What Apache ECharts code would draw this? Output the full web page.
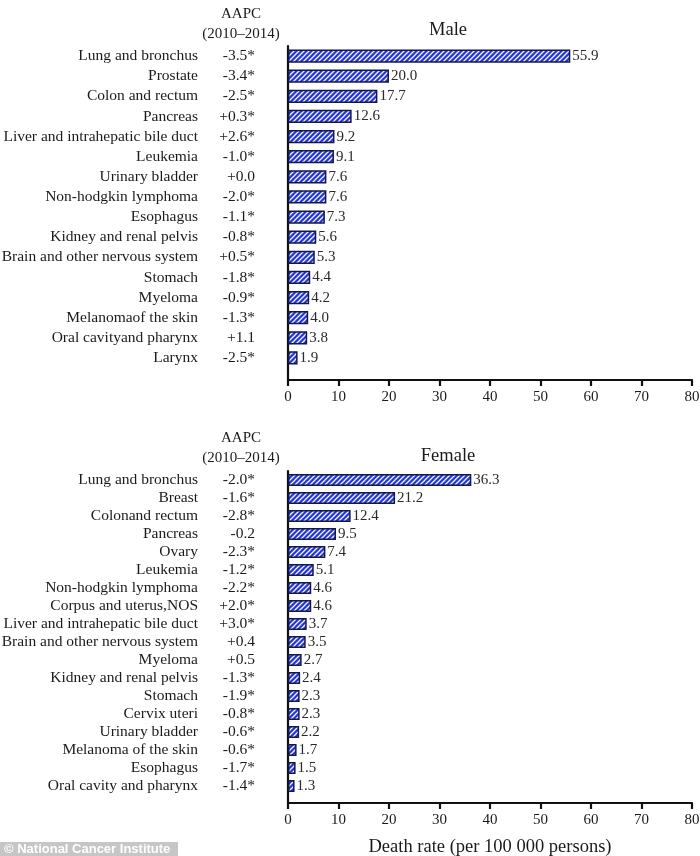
<!DOCTYPE html>
<html>
<head>
<meta charset="utf-8">
<script src="https://cdn.jsdelivr.net/npm/echarts@6/dist/echarts.min.js"></script>
<style>
  html, body { margin: 0; padding: 0; background: #fff; }
  #chart { width: 700px; height: 856px; }
</style>
</head>
<body>
<div id="chart"></div>
<script>
// 男性数据
var maleCats = ['Lung and bronchus', 'Prostate', 'Colon and rectum', 'Pancreas', 'Liver and intrahepatic bile duct',
  'Leukemia', 'Urinary bladder', 'Non-hodgkin lymphoma', 'Esophagus', 'Kidney and renal pelvis',
  'Brain and other nervous system', 'Stomach', 'Myeloma', 'Melanomaof the skin', 'Oral cavityand pharynx', 'Larynx'];
var maleAapc = ['-3.5*', '-3.4*', '-2.5*', '+0.3*', '+2.6*', '-1.0*', '+0.0', '-2.0*', '-1.1*', '-0.8*',
  '+0.5*', '-1.8*', '-0.9*', '-1.3*', '+1.1', '-2.5*'];
var maleRates = [55.9, 20.0, 17.7, 12.6, 9.2, 9.1, 7.6, 7.6, 7.3, 5.6, 5.3, 4.4, 4.2, 4.0, 3.8, 1.9];

// 女性数据
var femaleCats = ['Lung and bronchus', 'Breast', 'Colonand rectum', 'Pancreas', 'Ovary', 'Leukemia',
  'Non-hodgkin lymphoma', 'Corpus and uterus,NOS', 'Liver and intrahepatic bile duct',
  'Brain and other nervous system', 'Myeloma', 'Kidney and renal pelvis', 'Stomach', 'Cervix uteri',
  'Urinary bladder', 'Melanoma of the skin', 'Esophagus', 'Oral cavity and pharynx'];
var femaleAapc = ['-2.0*', '-1.6*', '-2.8*', '-0.2', '-2.3*', '-1.2*', '-2.2*', '+2.0*', '+3.0*', '+0.4',
  '+0.5', '-1.3*', '-1.9*', '-0.8*', '-0.6*', '-0.6*', '-1.7*', '-1.4*'];
var femaleRates = [36.3, 21.2, 12.4, 9.5, 7.4, 5.1, 4.6, 4.6, 3.7, 3.5, 2.7, 2.4, 2.3, 2.3, 2.2, 1.7, 1.5, 1.3];

// x轴刻度
var xTicks = [0, 10, 20, 30, 40, 50, 60, 70, 80];

var SERIF = "'Liberation Serif', 'Times New Roman', serif";
var INK = '#1a1a1a';

//斜线填充
function makeHatch() {
  var c = document.createElement('canvas');
  c.width = 5; c.height = 5;
  var ctx = c.getContext('2d');
  ctx.fillStyle = '#2536d6';
  ctx.fillRect(0, 0, 5, 5);
  ctx.strokeStyle = '#f4f6ff';
  ctx.lineWidth = 1.25;
  ctx.beginPath();
  ctx.moveTo(-1, 6); ctx.lineTo(6, -1);
  ctx.moveTo(-1, 1); ctx.lineTo(1, -1);
  ctx.moveTo(4, 6); ctx.lineTo(6, 4);
  ctx.stroke();
  return c;
}
var hatch = makeHatch();

function catAxis(gridIndex, cats, aapc) {
  return {
    type: 'category', gridIndex: gridIndex, inverse: true, data: cats,
    axisLine: { show: false }, axisTick: { show: false },
    axisLabel: {
      margin: 33,
      formatter: function (v, i) { return '{n|' + v + '}{a|' + aapc[i] + '}'; },
      rich: {
        n: { width: 200, align: 'right', fontFamily: SERIF, fontSize: 15.5, color: INK },
        a: { width: 57, align: 'right', fontFamily: SERIF, fontSize: 15.5, color: INK }
      }
    }
  };
}

function frameX(gridIndex, withName) {
  var ax = {
    type: 'value', gridIndex: gridIndex, min: xTicks[0], max: xTicks[xTicks.length - 1], interval: 10,
    position: 'bottom',
    axisLine: { onZero: false, lineStyle: { color: '#111', width: 2.2 } },
    axisTick: { length: 6, lineStyle: { color: '#111', width: 2.2 } },
    axisLabel: { margin: 10, fontFamily: SERIF, fontSize: 15, color: INK },
    splitLine: { show: false }
  };
  if (withName) {
    ax.name = 'Death rate (per 100 000 persons)';
    ax.nameLocation = 'middle';
    ax.nameGap = 35;
    ax.nameTextStyle = { fontFamily: SERIF, fontSize: 18.5, color: INK };
  }
  return ax;
}

function frameY(gridIndex) {
  return {
    type: 'value', gridIndex: gridIndex, min: 0, max: 1,
    axisLine: { show: true, onZero: false, lineStyle: { color: '#111', width: 2.2 } },
    axisTick: { show: false }, axisLabel: { show: false }, splitLine: { show: false }
  };
}

function barSeries(idx, data) {
  return {
    type: 'bar', xAxisIndex: idx, yAxisIndex: idx, data: data, barWidth: '66%',
    itemStyle: { color: { image: hatch, repeat: 'repeat' }, borderColor: '#141845', borderWidth: 1.5 },
    label: {
      show: true, position: 'right', distance: 2,
      fontFamily: SERIF, fontSize: 15, color: '#2a2a2a',
      formatter: function (p) { return p.value.toFixed(1); }
    },
    silent: true
  };
}

function plainText(x, y, txt, size) {
  return { type: 'text', x: x, y: y, style: { text: txt, fontFamily: SERIF, fontSize: size, fill: INK, textAlign: 'center', textVerticalAlign: 'middle' } };
}

function gridBox(top, height) {
  return { left: 288, right: 8, top: top, height: height, containLabel: false, outerBoundsMode: 'none' };
}

var charts = echarts.init(document.getElementById('chart'));
charts.setOption({
  animation: false,
  backgroundColor: '#fff',
  grid: [
    gridBox(46, 322),   // 男 数据
    gridBox(46, 334),   // 男 轴框
    gridBox(471, 324),  // 女 数据
    gridBox(471, 332)   // 女 轴框
  ],
  xAxis: [
    { type: 'value', gridIndex: 0, min: 0, max: 80, show: false },
    frameX(1, false),
    { type: 'value', gridIndex: 2, min: 0, max: 80, show: false },
    frameX(3, true)
  ],
  yAxis: [
    catAxis(0, maleCats, maleAapc),
    frameY(1),
    catAxis(2, femaleCats, femaleAapc),
    frameY(3)
  ],
  series: [
    barSeries(0, maleRates),
    barSeries(2, femaleRates)
  ],
  graphic: [
    plainText(241, 14, 'AAPC', 15),
    plainText(241, 34, '(2010\u20132014)', 15),
    plainText(241, 438, 'AAPC', 15),
    plainText(241, 458, '(2010\u20132014)', 15),
    plainText(448, 30, 'Male', 18.5),
    plainText(448, 456, 'Female', 18.5),
    { type: 'rect', shape: { x: 0, y: 842, width: 178, height: 14 }, style: { fill: '#c6c6c6' } },
    { type: 'text', x: 4, y: 849, style: { text: '\u00a9 National Cancer Institute', fontFamily: "'Liberation Sans', Arial, sans-serif", fontSize: 13, fontWeight: 'bold', fill: '#fff', textVerticalAlign: 'middle' } }
  ]
});
//响应式
window.addEventListener('resize', function () { charts.resize(); });
</script>
</body>
</html>
